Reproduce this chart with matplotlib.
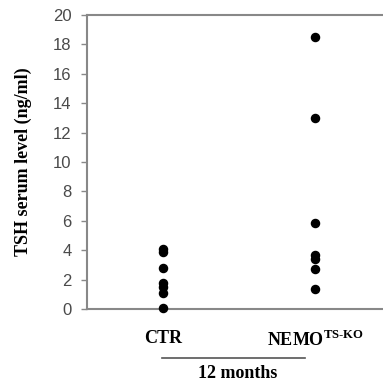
import numpy as np
import matplotlib
matplotlib.use('Agg')
import matplotlib.pyplot as plt

# data
groups = ['CTR', 'NEMO$^{\\mathrm{TS\\text{-}KO}}$']
ctr_tsh = [4.1, 3.85, 2.8, 1.8, 1.5, 1.1, 0.1]
nemo_tsh = [18.5, 13.0, 5.85, 3.65, 3.4, 2.7, 1.35]
y_ticks = list(range(0, 21, 2))

plt.rcParams['mathtext.fontset'] = 'custom'
plt.rcParams['mathtext.rm'] = 'Liberation Serif:bold'
plt.rcParams['mathtext.bf'] = 'Liberation Serif:bold'

fig = plt.figure(figsize=(3.83, 3.88), dpi=100)
fig.patch.set_facecolor('white')
ax = fig.add_axes([87 / 383, 79 / 388, (391 - 87) / 383, (309 - 15) / 388])

ax.scatter([0] * len(ctr_tsh), ctr_tsh, s=34, color='black', zorder=3, clip_on=False)
ax.scatter([1] * len(nemo_tsh), nemo_tsh, s=34, color='black', zorder=3, clip_on=False)

ax.set_xlim(-0.5, 1.5)
ax.set_ylim(0, 20)
ax.set_yticks(y_ticks)
ax.tick_params(axis='y', labelsize=12, labelcolor='#4a4a4a', color='#888888',
               length=4, width=1, direction='out', pad=7)
for lab in ax.get_yticklabels():
    lab.set_family('Liberation Sans')

ax.set_xticks([0, 1])
ax.set_xticklabels(groups, family='Liberation Serif', fontweight='bold', fontsize=13)
ax.tick_params(axis='x', length=0, pad=15)

for side in ['left', 'top', 'bottom']:
    ax.spines[side].set_color('#888888')
    ax.spines[side].set_linewidth(1.5)
ax.spines['right'].set_visible(False)

ax.set_ylabel('TSH serum level (ng/ml)', family='Liberation Serif',
              fontweight='bold', fontsize=13, labelpad=15)

# group bracket under the x labels
fig.add_artist(plt.Line2D([162 / 383, 305 / 383], [1 - 358 / 388] * 2,
                          color='#555555', lw=1.2))
fig.text(238 / 383, 1 - 373 / 388, '12 months', family='Liberation Serif',
         fontweight='bold', fontsize=13, ha='center', va='center')

fig.savefig('out.png', dpi=100, facecolor='white')
